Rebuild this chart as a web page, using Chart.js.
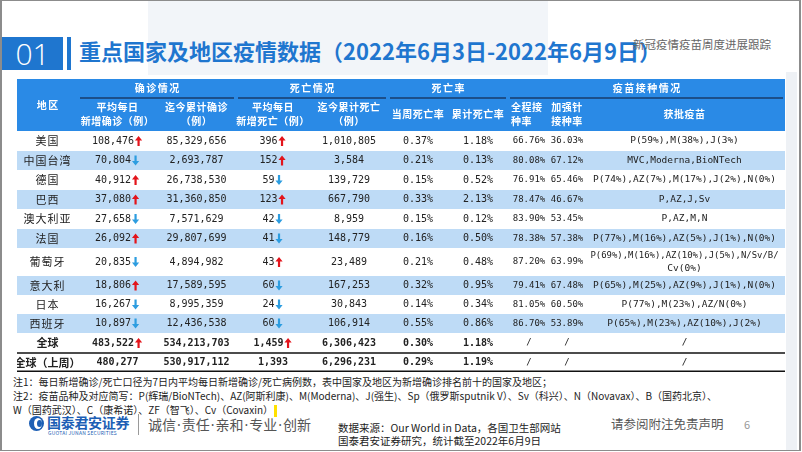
<!DOCTYPE html>
<html lang="zh">
<head>
<meta charset="UTF-8">
<title>重点国家及地区疫情数据</title>
<script src="https://cdn.jsdelivr.net/npm/chart.js"></script>
<style>
  html, body { margin: 0; padding: 0; }
  body { width: 802px; height: 452px; position: relative; overflow: hidden; background: #fff;
         font-family: "Noto Sans CJK SC", "Noto Sans", sans-serif; color: #222; }
  .frame { position: absolute; left: 0; top: 0; width: 801px; height: 451px; box-sizing: border-box;
           border-style: solid; border-color: #8c8c8c; border-width: 1px 2px 1px 2px; }
  .panel { position: absolute; left: 148px; top: 1px; width: 400px; height: 74px; background: #f2f5f9; }
  .rstrip { position: absolute; left: 786px; top: 72px; width: 11px; height: 378px; background: #eef1f5; }
  .num-box { position: absolute; left: 2px; top: 37px; width: 61px; height: 33px; background: #1f76cf;
             color: #fff; font: 300 30px "Open Sans", sans-serif; line-height: 33px; text-align: center; }
  .vbar { position: absolute; left: 67px; top: 37px; width: 4px; height: 33px; background: #1f76cf; }
  .title { position: absolute; left: 79px; top: 35px; font-size: 22px; font-weight: 700; color: #1f76cf;
           line-height: 30px; white-space: nowrap; }
  .subtitle { position: absolute; left: 633px; top: 35px; font-size: 11.5px; color: #666; line-height: 18px; }
  #tableBox { position: absolute; left: 17px; top: 79px; width: 768px; height: 293px; }
  .note { position: absolute; left: 13px; font-size: 10px; line-height: 14px; white-space: nowrap; color: #222; }
  .hl { display: inline-block; width: 3px; height: 12px; background: #ffe100; vertical-align: middle; margin-left: 1px; }
  .logo { position: absolute; left: 29px; top: 416px; width: 15px; height: 15px; border-radius: 50%; background: #1d5fb5; }
  .logo::after { content: ""; position: absolute; left: 5px; top: 2px; width: 8px; height: 11px; border-radius: 50%; background: #fff; }
  .logo::before { content: ""; position: absolute; left: 8px; top: 4px; width: 5px; height: 7px; border-radius: 50%; background: #1d5fb5; z-index: 1; }
  .brand { position: absolute; left: 47px; top: 414px; font-size: 14px; font-weight: 700; color: #1d5fb5; line-height: 17px; letter-spacing: -0.3px; }
  .brand-en { position: absolute; left: 48px; top: 430px; font-size: 5px; color: #1d5fb5; line-height: 6px; letter-spacing: 0.2px; }
  .sep { position: absolute; left: 138px; top: 414px; width: 1px; height: 21px; background: #9a9a9a; }
  .slogan { position: absolute; left: 148px; top: 414px; font-size: 14px; color: #555; line-height: 20px; white-space: nowrap; }
  .slogan i { font-style: normal; font-family: "Noto Sans", sans-serif; margin: 0 1px; }
  .src { position: absolute; left: 338px; font-size: 10.5px; line-height: 13px; color: #222; white-space: nowrap; }
  .disc { position: absolute; left: 611px; top: 415px; font-size: 12.5px; color: #555; line-height: 18px; }
  .page { position: absolute; left: 744px; top: 416px; font-size: 11px; color: #999; line-height: 16px; }
</style>
</head>
<body>
<div class="panel"></div>
<div class="rstrip"></div>
<div class="frame"></div>
<div class="num-box">01</div>
<div class="vbar"></div>
<div class="title">重点国家及地区疫情数据（2022年6月3日-2022年6月9日）</div>
<div class="subtitle">新冠疫情疫苗周度进展跟踪</div>

<div id="tableBox"><canvas id="covidTable"></canvas></div>

<div class="note" style="top:375px">注1：每日新增确诊/死亡口径为7日内平均每日新增确诊/死亡病例数，表中国家及地区为新增确诊排名前十的国家及地区；</div>
<div class="note" style="top:389px">注2：疫苗品种及对应简写：P(辉瑞/BioNTech)、AZ(阿斯利康)、M(Moderna)、J(强生)、Sp（俄罗斯sputnik V）、Sv（科兴）、N（Novavax）、B（国药北京）、</div>
<div class="note" style="top:403px">W（国药武汉）、C（康希诺）、ZF（智飞）、Cv（Covaxin）<span class="hl"></span></div>

<div class="logo"></div>
<div class="brand">国泰君安证券</div>
<div class="brand-en">GUOTAI JUNAN SECURITIES</div>
<div class="sep"></div>
<div class="slogan">诚信<i>·</i>责任<i>·</i>亲和<i>·</i>专业<i>·</i>创新</div>
<div class="src" style="top:421px">数据来源：Our World in Data，各国卫生部网站</div>
<div class="src" style="top:434px">国泰君安证券研究，统计截至2022年6月9日</div>
<div class="disc">请参阅附注免责声明</div>
<div class="page">6</div>

<script>
// ---- table data ----
const regions = ['美国', '中国台湾', '德国', '巴西', '澳大利亚', '法国', '葡萄牙', '意大利', '日本', '西班牙', '全球', '全球（上周）'];
const dailyCases = [108476, 70804, 40912, 37080, 27658, 26092, 20835, 18806, 16267, 10897, 483522, 480277];
const dailyCasesTrend = [1, -1, 1, 1, -1, 1, -1, 1, -1, -1, 1, 0];
const totalCases = [85329656, 2693787, 26738530, 31360850, 7571629, 29807699, 4894982, 17589595, 8995359, 12436538, 534213703, 530917112];
const dailyDeaths = [396, 152, 59, 123, 42, 41, 43, 60, 24, 60, 1459, 1393];
const dailyDeathsTrend = [1, 1, -1, 1, -1, -1, 1, -1, -1, -1, 1, 0];
const totalDeaths = [1010805, 3584, 139729, 667790, 8959, 148779, 23489, 167253, 30843, 106914, 6306423, 6296231];
const weeklyDeathRate = [0.37, 0.21, 0.15, 0.33, 0.15, 0.16, 0.21, 0.32, 0.14, 0.55, 0.30, 0.29];
const cumDeathRate = [1.18, 0.13, 0.52, 2.13, 0.12, 0.50, 0.48, 0.95, 0.34, 0.86, 1.18, 1.19];
const fullVaxRate = [66.76, 80.08, 76.91, 78.47, 83.90, 78.38, 87.20, 79.41, 81.05, 86.70, null, null];
const boosterRate = [36.03, 67.12, 65.46, 46.67, 53.45, 57.38, 63.99, 67.48, 60.50, 53.89, null, null];
const approvedVaccines = [
  ['P(59%),M(38%),J(3%)'],
  ['MVC,Moderna,BioNTech'],
  ['P(74%),AZ(7%),M(17%),J(2%),N(0%)'],
  ['P,AZ,J,Sv'],
  ['P,AZ,M,N'],
  ['P(77%),M(16%),AZ(5%),J(1%),N(0%)'],
  ['P(69%),M(16%),AZ(10%),J(5%),N/Sv/B/', 'Cv(0%)'],
  ['P(65%),M(25%),AZ(9%),J(1%),N(0%)'],
  ['P(77%),M(23%),AZ/N(0%)'],
  ['P(65%),M(23%),AZ(10%),J(2%)'],
  ['/'],
  ['/']
];
const groupHeaders = ['地区', '确诊情况', '死亡情况', '死亡率', '疫苗接种情况'];
const columnHeaders = [
  null,
  ['平均每日', '新增确诊（例）'],
  ['迄今累计确诊', '（例）'],
  ['平均每日', '新增死亡（例）'],
  ['迄今累计死亡', '（例）'],
  ['当周死亡率'],
  ['累计死亡率'],
  ['全程接', '种率'],
  ['加强针', '接种率'],
  ['获批疫苗']
];

// ---- layout (table units) ----
const colEdges = [0, 61, 140, 219, 293, 371, 431, 491, 533, 567, 768];
const rowEdges = [0, 19, 52, 72, 91, 111, 130, 150, 169, 197, 216, 235, 254, 274, 293];
const groupSpans = [[0, 1], [1, 3], [3, 5], [5, 7], [7, 10]];

const headerBlue = '#2a8ae6';
const stripeBlue = '#bedbf6';
const numFont = '"DejaVu Sans Mono", monospace';
const cjkFont = '"Noto Sans CJK SC", sans-serif';

const fmtInt = v => v.toLocaleString('en-US');
const fmtPct = v => v == null ? '/' : v.toFixed(2) + '%';

function drawArrow(ctx, x, yc, dir) {
  const h = 10, head = 4.5, hw = 3.6, sw = 1.1;
  const s = dir > 0 ? -1 : 1;           // tip direction
  const tip = yc + s * h / 2, base = yc - s * h / 2, neck = tip - s * head;
  ctx.fillStyle = dir > 0 ? '#e3141b' : '#2d9de0';
  ctx.beginPath();
  ctx.moveTo(x, tip);
  ctx.lineTo(x + hw, neck);
  ctx.lineTo(x + sw, neck);
  ctx.lineTo(x + sw, base);
  ctx.lineTo(x - sw, base);
  ctx.lineTo(x - sw, neck);
  ctx.lineTo(x - hw, neck);
  ctx.closePath();
  ctx.fill();
}

const tablePlugin = {
  id: 'covidTable',
  beforeDatasetsDraw(chart) {
    const { ctx, scales: { x, y } } = chart;
    const X = v => x.getPixelForValue(v);
    const Y = v => y.getPixelForValue(v);
    const colCenter = c => (X(colEdges[c]) + X(colEdges[c + 1])) / 2;
    const rowCenter = r => (Y(rowEdges[r + 2]) + Y(rowEdges[r + 3])) / 2;

    ctx.save();
    ctx.textBaseline = 'middle';

    // header background
    ctx.fillStyle = headerBlue;
    ctx.fillRect(X(0), Y(rowEdges[0]), X(768) - X(0), Y(rowEdges[2]) - Y(rowEdges[0]));

    // striped rows
    regions.forEach((r, i) => {
      if (i % 2 === 1 && i < 10) {
        ctx.fillStyle = stripeBlue;
        ctx.fillRect(X(0), Y(rowEdges[i + 2]), X(768) - X(0), Y(rowEdges[i + 3]) - Y(rowEdges[i + 2]));
      }
    });

    // group headers
    ctx.fillStyle = '#fff';
    ctx.textAlign = 'center';
    ctx.font = 'bold 10px ' + cjkFont;
    ctx.letterSpacing = '1.5px';
    groupHeaders.forEach((g, k) => {
      const [a, b] = groupSpans[k];
      const cx = (X(colEdges[a]) + X(colEdges[b])) / 2;
      const cy = k === 0 ? (Y(rowEdges[0]) + Y(rowEdges[2])) / 2 : (Y(rowEdges[0]) + Y(rowEdges[1])) / 2;
      ctx.fillText(g, cx + 0.75, cy);
    });
    // group underlines
    ctx.strokeStyle = '#183b6b';
    ctx.lineWidth = 1.5;
    groupSpans.slice(1).forEach(([a, b]) => {
      ctx.beginPath();
      ctx.moveTo(X(colEdges[a]) + 2, Y(rowEdges[1]));
      ctx.lineTo(X(colEdges[b]) - 2, Y(rowEdges[1]));
      ctx.stroke();
    });

    // column headers
    ctx.letterSpacing = '0.5px';
    columnHeaders.forEach((lines, c) => {
      if (!lines) return;
      const cy = (Y(rowEdges[1]) + Y(rowEdges[2])) / 2;
      lines.forEach((t, j) => {
        const ly = cy + (j - (lines.length - 1) / 2) * 14;
        if (c === 7) {
          ctx.textAlign = 'left';
          ctx.fillText(t, X(colEdges[c]) + 3, ly);
        } else {
          ctx.textAlign = 'center';
          ctx.fillText(t, colCenter(c), ly);
        }
      });
    });
    ctx.letterSpacing = '0px';

    // body cells
    const withArrow = (text, c, r, dir, bold) => {
      ctx.font = (bold ? 'bold ' : '') + '10px ' + numFont;
      const w = ctx.measureText(text).width;
      const total = dir ? w + 9 : w;
      const left = colCenter(c) - total / 2;
      ctx.textAlign = 'left';
      ctx.fillStyle = '#222';
      ctx.fillText(text, left, rowCenter(r));
      if (dir) drawArrow(ctx, left + w + 4.5, rowCenter(r), dir);
    };
    const plain = (text, c, r, bold, size) => {
      ctx.font = (bold ? 'bold ' : '') + (size || 10) + 'px ' + numFont;
      ctx.textAlign = 'center';
      ctx.fillStyle = '#222';
      ctx.fillText(text, colCenter(c), rowCenter(r));
    };

    regions.forEach((name, r) => {
      const bold = r >= 10;
      ctx.font = (bold ? 'bold ' : '') + '11px ' + cjkFont;
      ctx.letterSpacing = r >= 10 ? '0px' : '1px';
      ctx.textAlign = 'center';
      ctx.fillStyle = '#222';
      ctx.fillText(name, colCenter(0), rowCenter(r));
      ctx.letterSpacing = '0px';

      withArrow(fmtInt(dailyCases[r]), 1, r, dailyCasesTrend[r], bold);
      plain(fmtInt(totalCases[r]), 2, r, bold);
      withArrow(fmtInt(dailyDeaths[r]), 3, r, dailyDeathsTrend[r], bold);
      plain(fmtInt(totalDeaths[r]), 4, r, bold);
      plain(fmtPct(weeklyDeathRate[r]), 5, r, bold);
      plain(fmtPct(cumDeathRate[r]), 6, r, bold);
      plain(fmtPct(fullVaxRate[r]), 7, r, false, 9);
      plain(fmtPct(boosterRate[r]), 8, r, false, 9);
      const vl = approvedVaccines[r];
      ctx.font = '9.5px ' + numFont;
      ctx.textAlign = 'center';
      vl.forEach((t, j) => {
        ctx.fillText(t, colCenter(9), rowCenter(r) + (j - (vl.length - 1) / 2) * 13, 188);
      });
    });

    // rule lines
    ctx.strokeStyle = '#111';
    ctx.lineWidth = 1.5;
    [rowEdges[13], rowEdges[14] - 0.75].forEach(v => {
      ctx.beginPath();
      ctx.moveTo(X(0), Y(v));
      ctx.lineTo(X(768), Y(v));
      ctx.stroke();
    });

    ctx.restore();
  }
};

new Chart(document.getElementById('covidTable'), {
  type: 'scatter',
  data: { datasets: [{ data: [], pointRadius: 0 }] },
  options: {
    responsive: true,
    maintainAspectRatio: false,
    animation: false,
    layout: { padding: 0 },
    plugins: { legend: { display: false }, tooltip: { enabled: false } },
    scales: {
      x: { type: 'linear', min: 0, max: 768, display: false },
      y: { type: 'linear', min: 0, max: 293, reverse: true, display: false }
    }
  },
  plugins: [tablePlugin]
});
</script>
</body>
</html>
